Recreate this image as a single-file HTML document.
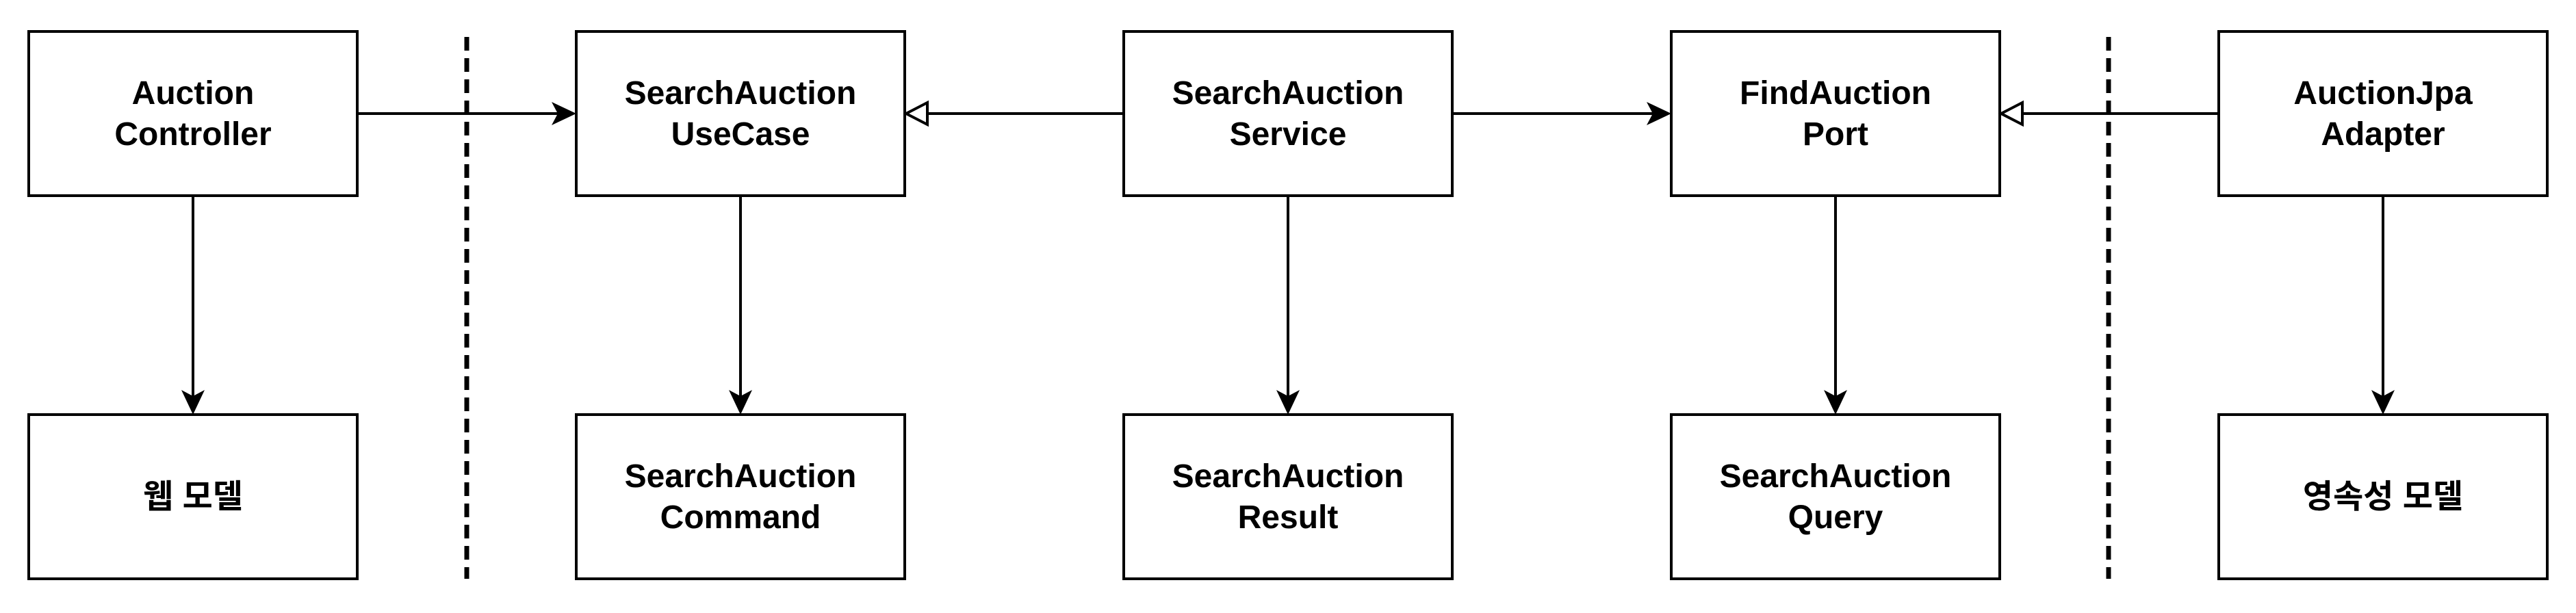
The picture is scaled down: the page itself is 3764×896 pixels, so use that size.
<!DOCTYPE html>
<html><head><meta charset="utf-8"><style>
html,body{margin:0;padding:0;background:#fff;width:3764px;height:896px;overflow:hidden}
text{font-family:"Liberation Sans","Noto Sans CJK KR",sans-serif;font-weight:bold;font-size:48px;fill:#000}
</style></head><body>
<svg width="3764" height="896" viewBox="0 0 3764 896" xmlns="http://www.w3.org/2000/svg">
<g fill="#fff" stroke="#000" stroke-width="4">
<rect x="42" y="46" width="480" height="240"/>
<rect x="842" y="46" width="480" height="240"/>
<rect x="1642" y="46" width="480" height="240"/>
<rect x="2442" y="46" width="480" height="240"/>
<rect x="3242" y="46" width="480" height="240"/>
<rect x="42" y="606" width="480" height="240"/>
<rect x="842" y="606" width="480" height="240"/>
<rect x="1642" y="606" width="480" height="240"/>
<rect x="2442" y="606" width="480" height="240"/>
<rect x="3242" y="606" width="480" height="240"/>
</g>
<g stroke="#000" stroke-width="7" stroke-dasharray="20 11">
<line x1="682" y1="54" x2="682" y2="846"/>
<line x1="3081" y1="54" x2="3081" y2="846"/>
</g>
<g stroke="#000" stroke-width="4" fill="none">
<line x1="522" y1="166" x2="830" y2="166"/>
<line x1="1356" y1="166" x2="1642" y2="166"/>
<line x1="2122" y1="166" x2="2430" y2="166"/>
<line x1="2956" y1="166" x2="3242" y2="166"/>
<line x1="282" y1="286" x2="282" y2="594"/>
<line x1="1082" y1="286" x2="1082" y2="594"/>
<line x1="1882" y1="286" x2="1882" y2="594"/>
<line x1="2682" y1="286" x2="2682" y2="594"/>
<line x1="3482" y1="286" x2="3482" y2="594"/>
</g>
<g fill="#000">
<path d="M842,166 L806,149 L815,166 L806,183 Z"/>
<path d="M2442,166 L2406,149 L2415,166 L2406,183 Z"/>
<path d="M282,606 L265,570 L282,579 L299,570 Z"/>
<path d="M1082,606 L1065,570 L1082,579 L1099,570 Z"/>
<path d="M1882,606 L1865,570 L1882,579 L1899,570 Z"/>
<path d="M2682,606 L2665,570 L2682,579 L2699,570 Z"/>
<path d="M3482,606 L3465,570 L3482,579 L3499,570 Z"/>
</g>
<g fill="#fff" stroke="#000" stroke-width="4">
<path d="M1324,166 L1355,150 L1355,182 Z"/>
<path d="M2924,166 L2955,150 L2955,182 Z"/>
</g>
<g text-anchor="middle">
<text x="282" y="152">Auction</text><text x="282" y="212">Controller</text>
<text x="1082" y="152">SearchAuction</text><text x="1082" y="212">UseCase</text>
<text x="1882" y="152">SearchAuction</text><text x="1882" y="212">Service</text>
<text x="2682" y="152">FindAuction</text><text x="2682" y="212">Port</text>
<text x="3482" y="152">AuctionJpa</text><text x="3482" y="212">Adapter</text>
<text x="282" y="742">웹 모델</text>
<text x="1082" y="712">SearchAuction</text><text x="1082" y="772">Command</text>
<text x="1882" y="712">SearchAuction</text><text x="1882" y="772">Result</text>
<text x="2682" y="712">SearchAuction</text><text x="2682" y="772">Query</text>
<text x="3482" y="742">영속성 모델</text>
</g>
</svg>
</body></html>
